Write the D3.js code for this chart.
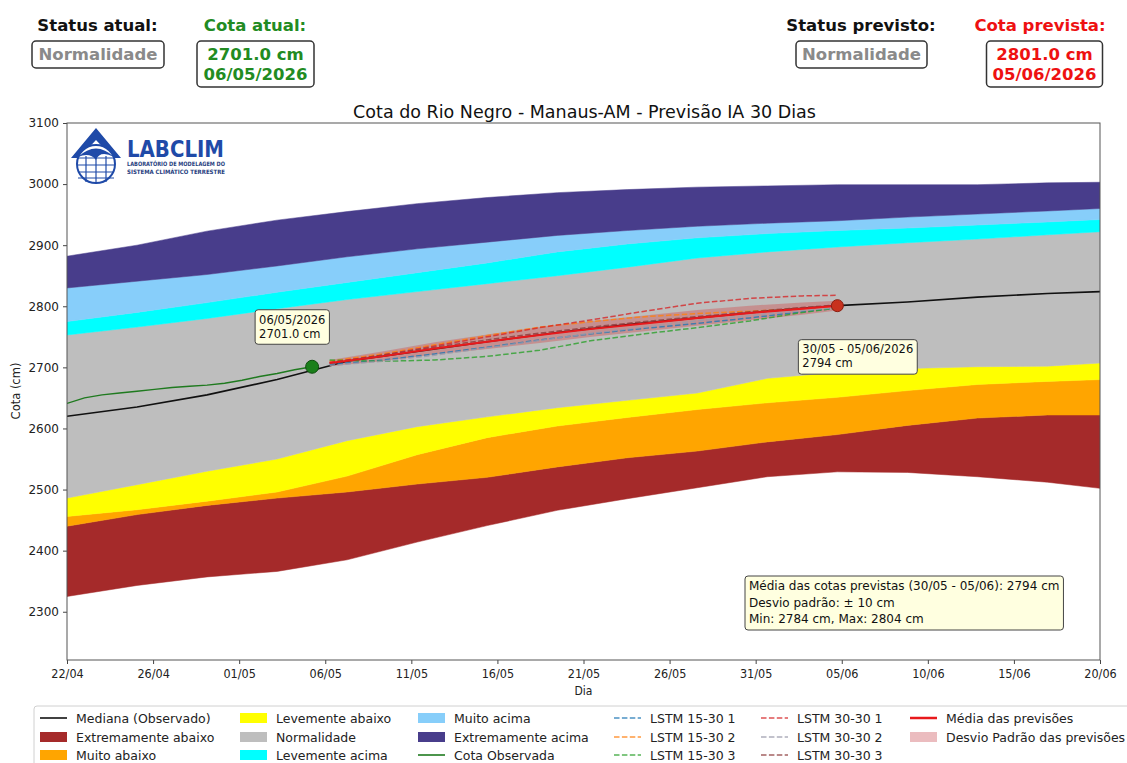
<!DOCTYPE html>
<html>
<head>
<meta charset="utf-8">
<script src="https://cdn.jsdelivr.net/npm/d3@7"></script>
<style>
  body { margin: 0; background: #fff; }
  svg { font-family: "DejaVu Sans", sans-serif; }
</style>
</head>
<body>
<svg id="chart" width="1127" height="763"></svg>
<script>
// days counted from 22/04/2026
const bandDays = [0, 4, 8, 12, 16, 20, 24, 28, 32, 36, 40, 44, 48, 52, 56, 59];
const extAbaixoMin = [2325, 2343, 2357, 2366, 2385, 2414, 2441, 2466, 2485, 2503, 2521, 2529, 2528, 2521, 2512, 2502];
const extAbaixoMax = [2440, 2459, 2474, 2486, 2496, 2509, 2520, 2537, 2552, 2563, 2578, 2590, 2605, 2617, 2622, 2622];
const muitoAbaixoMax = [2456, 2467, 2481, 2496, 2522, 2557, 2585, 2604, 2618, 2631, 2642, 2651, 2662, 2672, 2677, 2680];
const levAbaixoMax = [2486, 2508, 2530, 2550, 2580, 2603, 2619, 2634, 2646, 2658, 2682, 2692, 2698, 2701, 2702, 2707];
const normalMax = [2753, 2766, 2780, 2796, 2811, 2824, 2837, 2850, 2864, 2879, 2889, 2897, 2904, 2910, 2917, 2922];
const levAcimaMax = [2775, 2790, 2806, 2823, 2839, 2855, 2871, 2889, 2902, 2912, 2919, 2924, 2928, 2933, 2938, 2942];
const muitoAcimaMax = [2830, 2841, 2852, 2866, 2881, 2894, 2905, 2916, 2924, 2931, 2936, 2940, 2946, 2951, 2956, 2960];
const extAcimaMax = [2882, 2900, 2923, 2941, 2955, 2968, 2978, 2986, 2991, 2995, 2997, 2999, 2999, 2999, 3002, 3003];
const mediana = [2620, 2635, 2655, 2680, 2710, 2726, 2742, 2757, 2770, 2781, 2792, 2801, 2807, 2815, 2821, 2824];

const obsDays = [0, 1, 2, 3, 4, 5, 6, 7, 8, 9, 10, 11, 12, 13, 14];
const cotaObservada = [2641, 2650, 2655, 2658, 2661, 2664, 2667, 2669, 2671, 2674, 2679, 2685, 2690, 2696, 2701];

const fcDays = [15, 18, 21, 24, 27, 30, 33, 36, 39, 42, 44];
const lstm1530_1 = [2705, 2712, 2722, 2733, 2745, 2755, 2764, 2772, 2781, 2791, 2797];
const lstm1530_2 = [2710, 2722, 2737, 2752, 2766, 2775, 2783, 2788, 2792, 2796, 2800];
const lstm1530_3 = [2712, 2710, 2712, 2718, 2728, 2744, 2755, 2765, 2776, 2790, 2797];
const lstm3030_1 = [2708, 2720, 2735, 2750, 2765, 2778, 2792, 2805, 2813, 2817, 2818];
const lstm3030_2 = [2703, 2710, 2720, 2732, 2744, 2756, 2766, 2776, 2785, 2793, 2798];
const lstm3030_3 = [2707, 2720, 2733, 2745, 2756, 2766, 2775, 2783, 2791, 2798, 2802];
const mediaPrevisoes = [2707, 2718, 2731, 2742, 2753, 2763, 2772, 2781, 2789, 2796, 2801];
const desvioPrevisoes = [5, 8, 10, 12, 13, 13, 13, 13, 12, 10, 8];

const xTickLabels = ['22/04', '26/04', '01/05', '06/05', '11/05', '16/05', '21/05', '26/05', '31/05', '05/06', '10/06', '15/06', '20/06'];
const yTicks = [2300, 2400, 2500, 2600, 2700, 2800, 2900, 3000, 3100];

const dayAtual = 14, cotaAtual = 2701.0;
const dayPrevista = 44, cotaPrevista = 2801.0, mediaSemana = 2794;

const svg = d3.select('#chart');
const plot = { left: 67, right: 1100, top: 123, bottom: 660 };

const x = d3.scaleLinear().domain([0, 59]).range([plot.left, plot.right]);
const y = d3.scaleLinear().domain([2221, 3100]).range([plot.bottom, plot.top]);

svg.append('clipPath').attr('id', 'clip')
  .append('rect')
  .attr('x', plot.left).attr('y', plot.top)
  .attr('width', plot.right - plot.left).attr('height', plot.bottom - plot.top);

const g = svg.append('g').attr('clip-path', 'url(#clip)');

// climatology bands
const bands = [
  { label: 'Extremamente abaixo', lo: extAbaixoMin, hi: extAbaixoMax, color: '#a52a2a' },
  { label: 'Muito abaixo', lo: extAbaixoMax, hi: muitoAbaixoMax, color: '#ffa500' },
  { label: 'Levemente abaixo', lo: muitoAbaixoMax, hi: levAbaixoMax, color: '#ffff00' },
  { label: 'Normalidade', lo: levAbaixoMax, hi: normalMax, color: '#bebebe' },
  { label: 'Levemente acima', lo: normalMax, hi: levAcimaMax, color: '#00ffff' },
  { label: 'Muito acima', lo: levAcimaMax, hi: muitoAcimaMax, color: '#87cefa' },
  { label: 'Extremamente acima', lo: muitoAcimaMax, hi: extAcimaMax, color: '#483d8b' },
];

bands.forEach(b => {
  const area = d3.area()
    .x((d, i) => x(bandDays[i]))
    .y0((d, i) => y(b.lo[i]))
    .y1((d, i) => y(b.hi[i]));
  g.append('path').datum(bandDays)
    .attr('d', area)
    .attr('fill', b.color)
    .attr('stroke', b.color)
    .attr('stroke-width', 0.5);
});

const line = (days, vals) => d3.line().x((d, i) => x(days[i])).y((d, i) => y(vals[i]))(days);

// median and observed
g.append('path').attr('d', line(bandDays, mediana))
  .attr('fill', 'none').attr('stroke', '#111').attr('stroke-width', 1.6);
g.append('path').attr('d', line(obsDays, cotaObservada))
  .attr('fill', 'none').attr('stroke', '#1f7a1f').attr('stroke-width', 1.4);

// forecasts
const stdArea = d3.area()
  .x((d, i) => x(fcDays[i]))
  .y0((d, i) => y(mediaPrevisoes[i] - desvioPrevisoes[i]))
  .y1((d, i) => y(mediaPrevisoes[i] + desvioPrevisoes[i]));
g.append('path').datum(fcDays).attr('d', stdArea)
  .attr('fill', '#d62728').attr('fill-opacity', 0.3);

const lstmSeries = [
  { label: 'LSTM 15-30 1', vals: lstm1530_1, color: '#1f77b4' },
  { label: 'LSTM 15-30 2', vals: lstm1530_2, color: '#ff7f0e' },
  { label: 'LSTM 15-30 3', vals: lstm1530_3, color: '#2ca02c' },
  { label: 'LSTM 30-30 1', vals: lstm3030_1, color: '#d62728' },
  { label: 'LSTM 30-30 2', vals: lstm3030_2, color: '#9a9aaa' },
  { label: 'LSTM 30-30 3', vals: lstm3030_3, color: '#8c3b3b' },
];

lstmSeries.forEach(s => {
  g.append('path').attr('d', line(fcDays, s.vals))
    .attr('fill', 'none').attr('stroke', s.color).attr('stroke-opacity', 0.8)
    .attr('stroke-width', 1.5).attr('stroke-dasharray', '5.5,2.4');
});

g.append('path').attr('d', line(fcDays, mediaPrevisoes))
  .attr('fill', 'none').attr('stroke', '#e8191c').attr('stroke-width', 2);

g.append('circle').attr('cx', x(dayAtual)).attr('cy', y(cotaAtual)).attr('r', 6.5)
  .attr('fill', '#1a7f1a').attr('stroke', '#0d4d0d').attr('stroke-width', 1);
g.append('circle').attr('cx', x(dayPrevista)).attr('cy', y(cotaPrevista)).attr('r', 6)
  .attr('fill', '#c8321e').attr('stroke', '#8a1f12').attr('stroke-width', 1);

// axes
const yAxis = svg.append('g')
  .attr('transform', `translate(${plot.left},0)`)
  .call(d3.axisLeft(y).tickValues(yTicks).tickFormat(d3.format('d')).tickSize(4).tickPadding(4));
const xTickValues = xTickLabels.map((t, i) => i * 59 / (xTickLabels.length - 1));
const xAxis = svg.append('g')
  .attr('transform', `translate(0,${plot.bottom})`)
  .call(d3.axisBottom(x).tickValues(xTickValues).tickFormat((d, i) => xTickLabels[i]).tickSize(4).tickPadding(5));

[xAxis, yAxis].forEach(a => {
  a.select('.domain').remove();
  a.selectAll('line').attr('stroke', '#444');
  a.selectAll('text').attr('fill', '#222').style('font-family', '"DejaVu Sans", sans-serif');
});
yAxis.selectAll('text').style('font-size', '12px');
xAxis.selectAll('text').style('font-size', '12.5px')
  .style('font-family', '"DejaVu Sans Condensed", "DejaVu Sans", sans-serif').style('font-stretch', 'condensed');

svg.append('rect')
  .attr('x', plot.left).attr('y', plot.top)
  .attr('width', plot.right - plot.left).attr('height', plot.bottom - plot.top)
  .attr('fill', 'none').attr('stroke', '#555').attr('stroke-width', 1);

svg.append('text').attr('x', (plot.left + plot.right) / 2).attr('y', 695)
  .attr('text-anchor', 'middle').style('font-size', '12px').style('font-stretch', 'condensed')
  .style('font-family', '"DejaVu Sans Condensed", "DejaVu Sans", sans-serif').attr('fill', '#222').text('Dia');
svg.append('text').attr('transform', 'translate(20,391) rotate(-90)')
  .attr('text-anchor', 'middle').style('font-size', '11.5px').attr('fill', '#222').text('Cota (cm)');
svg.append('text').attr('x', (plot.left + plot.right) / 2 + 1).attr('y', 118)
  .attr('text-anchor', 'middle').style('font-size', '17.5px').attr('fill', '#111')
  .text('Cota do Rio Negro - Manaus-AM - Previsão IA 30 Dias');

// annotation boxes
function noteBox(px, py, lines, fontSize, lineH, pad) {
  const grp = svg.append('g');
  const t = grp.append('text').style('font-size', fontSize + 'px').attr('fill', '#111');
  lines.forEach((l, i) => {
    t.append('tspan').attr('x', px + pad).attr('y', py + pad + fontSize * 0.85 + i * lineH).text(l);
  });
  const bb = t.node().getBBox();
  grp.insert('rect', 'text')
    .attr('x', px).attr('y', py)
    .attr('width', bb.width + pad * 2).attr('height', lines.length * lineH + pad * 2 - (lineH - fontSize) + 1)
    .attr('rx', 3).attr('fill', '#ffffe0').attr('stroke', '#444').attr('stroke-width', 1);
}

noteBox(x(dayAtual) - 57, y(cotaAtual) - 57, ['06/05/2026', cotaAtual.toFixed(1) + ' cm'], 11.5, 14, 4);
noteBox(x(dayPrevista) - 39, y(cotaPrevista) + 34, ['30/05 - 05/06/2026', mediaSemana + ' cm'], 11.5, 14, 4);
noteBox(745, 576, [
  'Média das cotas previstas (30/05 - 05/06): ' + mediaSemana + ' cm',
  'Desvio padrão: ± 10 cm',
  'Min: 2784 cm, Max: 2804 cm',
], 12, 16.5, 4);

// header
function header(cx, boxCx, title, titleColor, lines, textColor, boxW) {
  svg.append('text').attr('x', cx).attr('y', 31).attr('text-anchor', 'middle')
    .style('font-size', '16.5px').style('font-weight', 'bold').attr('fill', titleColor).text(title);
  const h = lines.length === 1 ? 27 : 46;
  svg.append('rect').attr('x', boxCx - boxW / 2).attr('y', 41).attr('width', boxW).attr('height', h)
    .attr('rx', 4).attr('fill', '#fff').attr('stroke', '#333').attr('stroke-width', 1.5);
  lines.forEach((l, i) => {
    svg.append('text').attr('x', boxCx).attr('y', 60 + i * 19.5).attr('text-anchor', 'middle')
      .style('font-size', '16.5px').style('font-weight', 'bold').attr('fill', textColor).text(l);
  });
}
header(97.5, 98, 'Status atual:', '#111', ['Normalidade'], '#8a8a8a', 132);
header(255, 255.5, 'Cota atual:', '#228b22', [cotaAtual.toFixed(1) + ' cm', '06/05/2026'], '#228b22', 117);
header(861, 861.5, 'Status previsto:', '#111', ['Normalidade'], '#8a8a8a', 131);
header(1040, 1044.5, 'Cota prevista:', '#ee1111', [cotaPrevista.toFixed(1) + ' cm', '05/06/2026'], '#ee1111', 116);

// LABCLIM logo (approximation)
const logo = svg.append('g');
const blue = '#1f4aa8';
logo.append('path').attr('d', 'M96,128 L121,158 L113,158 L96,140 L79,158 L71,158 Z').attr('fill', blue);
logo.append('circle').attr('cx', 96).attr('cy', 164).attr('r', 19).attr('fill', '#fff').attr('stroke', blue).attr('stroke-width', 2);
logo.append('path').attr('d', 'M78,157 Q96,140 114,157 Q100,150 96,160 Q90,152 78,157 Z').attr('fill', blue);
[158, 165, 172, 178].forEach(yy => {
  logo.append('line').attr('x1', 78).attr('x2', 114).attr('y1', yy).attr('y2', yy).attr('stroke', blue).attr('stroke-width', 1.2);
});
[86, 96, 106].forEach(xx => {
  logo.append('line').attr('x1', xx).attr('x2', xx).attr('y1', 156).attr('y2', 182).attr('stroke', blue).attr('stroke-width', 1.2);
});
logo.append('text').attr('x', 127).attr('y', 157).attr('textLength', 97).attr('lengthAdjust', 'spacingAndGlyphs')
  .style('font-size', '23px').style('font-weight', 'bold').attr('fill', blue).text('LABCLIM');
logo.append('text').attr('x', 127).attr('y', 166).attr('textLength', 98).attr('lengthAdjust', 'spacingAndGlyphs')
  .style('font-size', '6px').style('font-weight', 'bold').attr('fill', '#27407e').text('LABORATÓRIO DE MODELAGEM DO');
logo.append('text').attr('x', 127).attr('y', 174).attr('textLength', 98).attr('lengthAdjust', 'spacingAndGlyphs')
  .style('font-size', '6px').style('font-weight', 'bold').attr('fill', '#27407e').text('SISTEMA CLIMÁTICO TERRESTRE');

// legend
const legendItems = [
  { label: 'Mediana (Observado)', kind: 'line', color: '#111' },
  { label: 'Extremamente abaixo', kind: 'patch', color: '#a52a2a' },
  { label: 'Muito abaixo', kind: 'patch', color: '#ffa500' },
  { label: 'Levemente abaixo', kind: 'patch', color: '#ffff00' },
  { label: 'Normalidade', kind: 'patch', color: '#bebebe' },
  { label: 'Levemente acima', kind: 'patch', color: '#00ffff' },
  { label: 'Muito acima', kind: 'patch', color: '#87cefa' },
  { label: 'Extremamente acima', kind: 'patch', color: '#483d8b' },
  { label: 'Cota Observada', kind: 'line', color: '#1f7a1f' },
  ...lstmSeries.map(s => ({ label: s.label, kind: 'dash', color: s.color })),
  { label: 'Média das previsões', kind: 'line', color: '#e8191c', width: 2.5 },
  { label: 'Desvio Padrão das previsões', kind: 'patch', color: '#ebbcbf' },
];
const legendColX = [40, 240, 418, 614, 761, 910];
const legendRowY = [718, 737, 755];

svg.append('rect').attr('x', 34).attr('y', 706).attr('width', 1100).attr('height', 70)
  .attr('rx', 3).attr('fill', '#fff').attr('stroke', '#d0d0d0').attr('stroke-width', 1);

legendItems.forEach((item, i) => {
  const lx = legendColX[Math.floor(i / 3)];
  const ly = legendRowY[i % 3];
  if (item.kind === 'patch') {
    svg.append('rect').attr('x', lx).attr('y', ly - 5).attr('width', 27).attr('height', 10).attr('fill', item.color);
  } else {
    svg.append('line').attr('x1', lx).attr('x2', lx + 27).attr('y1', ly).attr('y2', ly)
      .attr('stroke', item.color).attr('stroke-width', item.width || 1.6)
      .attr('stroke-opacity', item.kind === 'dash' ? 0.8 : 1)
      .attr('stroke-dasharray', item.kind === 'dash' ? '5.5,2.4' : null);
  }
  svg.append('text').attr('x', lx + 36).attr('y', ly + 4.5)
    .style('font-size', '12.5px').attr('fill', '#222').text(item.label);
});
</script>
</body>
</html>
